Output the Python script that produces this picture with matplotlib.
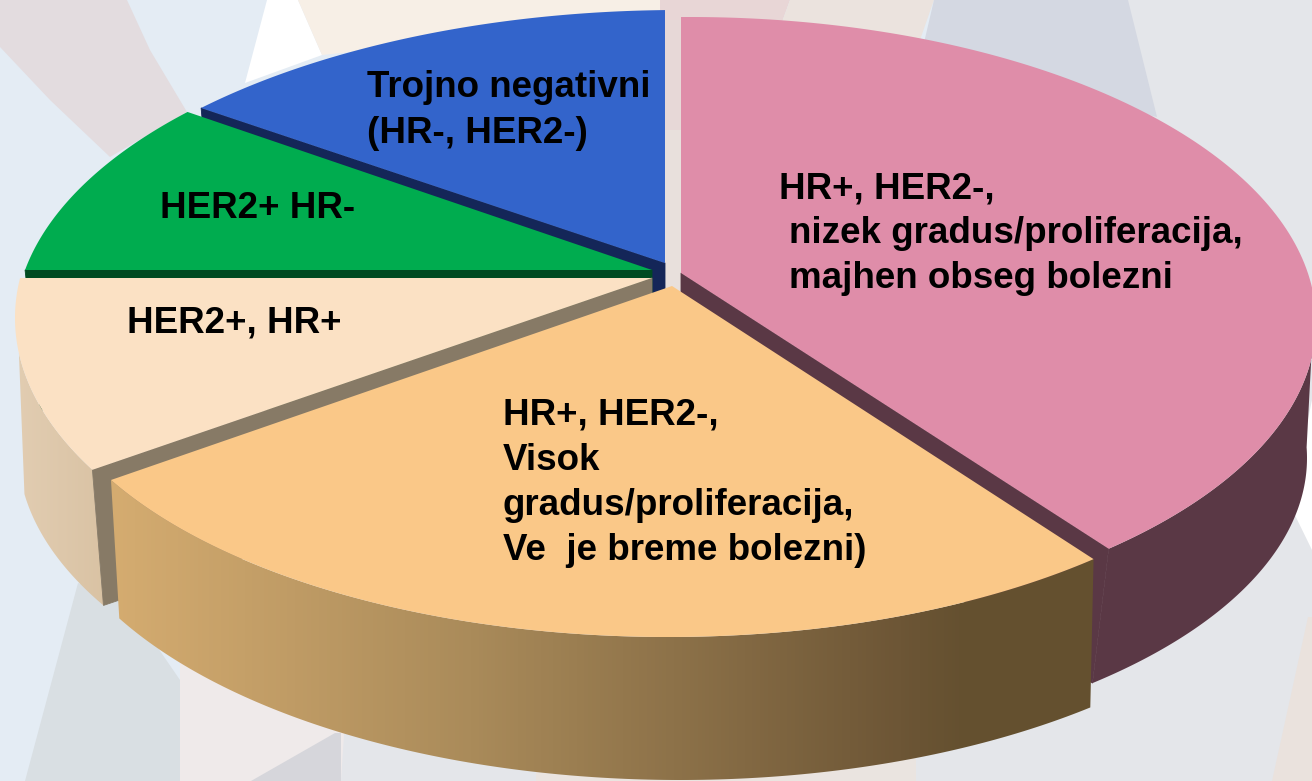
"""3D style pie chart of breast cancer subtypes, drawn in pixel coordinates."""

import numpy as np
import matplotlib
matplotlib.use('Agg')
import matplotlib.pyplot as plt
from matplotlib.colors import LinearSegmentedColormap
from matplotlib.patches import Polygon

plt.rcParams['font.family'] = ['Liberation Sans', 'DejaVu Sans']

# Shares in percent, clockwise from 12 o'clock
segments = ['pink', 'orange', 'peach', 'green', 'blue']
shares = [39.7, 25.1, 10.2, 9.8, 15.2]

# Every slice is pulled out a little, so it has its own top and bottom ellipse
# (center x, center y, radius x, radius y, apex x, apex y)
top_faces = {
    'pink': (690, 322, 626, 305, 681, 273),
    'orange': (668, 335, 635, 302, 672, 286),
    'peach': (662, 318, 647, 320, 652, 278),
    'green': (670, 325, 655, 315, 652, 270),
    'blue': (680, 330, 665, 320, 665, 263),
}
bottom_faces = {
    'pink': (690, 458, 617, 297, 681, 421),
    'orange': (680, 468, 640, 312, 665, 425),
    'peach': (661, 450, 643, 312, 652, 421),
    'green': (670, 465, 640, 307, 652, 410),
    'blue': (680, 470, 650, 312, 665, 403),
}
# Small correction of the slice edges in degrees, the perspective is not exact
nudges = {'pink': (0, 0), 'orange': (0.8, 0.7), 'peach': (2.0, 0), 'green': (0, 0), 'blue': (-0.5, 0)}
# The outer walls disappear behind the top faces here
PINK_WALL_START = 95
PEACH_WALL_END = 256.5

top_colors = {'pink': '#DF8DA9', 'orange': '#FAC888', 'peach': '#FBE1C4',
              'green': '#00AC4F', 'blue': '#3364CB'}
cut_colors = {'pink': '#5A3845', 'peach': '#877A66', 'green': '#004B22', 'blue': '#142658'}

label_lines = [
    ('Trojno negativni', 367, 97),
    ('(HR-, HER2-)', 367, 143),
    ('HER2+ HR-', 160, 218),
    ('HER2+, HR+', 127, 333),
    ('HR+, HER2-,', 779, 198),
    ('nizek gradus/proliferacija,', 789, 243),
    ('majhen obseg bolezni', 789, 288),
    ('HR+, HER2-,', 503, 425),
    ('Visok', 503, 470),
    ('gradus/proliferacija,', 503, 515),
    ('Ve  je breme bolezni)', 503, 560),
]

# Pale shapes of the slide background
background_shapes = [
    ('#E3DCDF', [(0, 0), (127, 0), (150, 50), (187, 112), (110, 157), (50, 100), (0, 47)]),
    ('#FFFFFF', [(267, 0), (298, 0), (322, 55), (245, 83)]),
    ('#F7EFE6', [(298, 0), (660, 0), (660, 20), (322, 55)]),
    ('#E8D6D6', [(660, 0), (790, 0), (781, 25), (660, 20)]),
    ('#E7D8D7', [(660, 20), (685, 20), (685, 130), (660, 130)]),
    ('#E8E0DC', [(660, 130), (685, 130), (685, 300), (660, 300)]),
    ('#EBE3DE', [(790, 0), (934, 0), (920, 40), (781, 25)]),
    ('#E4E6EA', [(1128, 0), (1312, 0), (1312, 781), (341, 781), (341, 600), (900, 300)]),
    ('#D4D8E2', [(934, 0), (1128, 0), (1157, 117), (920, 60)]),
    ('#FFFFFF', [(1290, 505), (1312, 400), (1312, 550)]),
    ('#EAE2DD', [(1308, 617), (1312, 617), (1312, 781), (1272, 781)]),
    ('#D9DFE3', [(78, 583), (125, 600), (180, 680), (180, 781), (25, 781)]),
    ('#EFEAEA', [(180, 640), (345, 720), (341, 781), (180, 781)]),
    ('#D6D6DB', [(335, 733), (341, 733), (341, 781), (251, 781)]),
    ('#EAE4E0', [(536, 700), (916, 700), (916, 781), (536, 781)]),
]

# Side wall shading of the orange slice, left to right
wall_colors = ['#D6AD71', '#AA8B5A', '#6D5636', '#64502F', '#64502F']
wall_stops = [0.0, 0.37, 0.80, 0.87, 1.0]
peach_wall_colors = ['#E2CDB2', '#D9C2A3']


def rim_points(face, start, end, n=150):
    """Points of an ellipse between two angles, seen from the apex of the face."""
    cx, cy, a, b, ax_, ay_ = face
    qx = (ax_ - cx) / a
    qy = (ay_ - cy) / b
    theta = np.radians(np.linspace(start, end, n))
    dx, dy = np.sin(theta), -np.cos(theta)
    proj = qx * dx + qy * dy
    t = -proj + np.sqrt(proj ** 2 - (qx ** 2 + qy ** 2 - 1))
    return np.column_stack((cx + a * (qx + t * dx), cy + b * (qy + t * dy)))


def draw_top(ax, name, start, end, z):
    pts = np.vstack(([top_faces[name][4:]], rim_points(top_faces[name], start, end)))
    ax.add_patch(Polygon(pts, closed=True, fc=top_colors[name], ec='none', zorder=z))


def draw_cut(ax, name, angle, z):
    top = top_faces[name]
    bottom = bottom_faces[name]
    pts = np.vstack(([top[4:]], rim_points(top, angle, angle, 1),
                     rim_points(bottom, angle, angle, 1), [bottom[4:]]))
    ax.add_patch(Polygon(pts, closed=True, fc=cut_colors[name], ec=cut_colors[name],
                         lw=0.6, zorder=z))


def outer_wall(name, start, end):
    rim = rim_points(top_faces[name], start, end)
    low = rim_points(bottom_faces[name], start, end)
    return np.vstack((rim, low[::-1]))


def draw_gradient_wall(ax, name, start, end, cmap, x0, x1, z):
    patch = Polygon(outer_wall(name, start, end), closed=True, fc='none', ec='none', zorder=z)
    ax.add_patch(patch)
    grad = np.linspace(0, 1, 256).reshape(1, -1)
    img = ax.imshow(grad, extent=(x0, x1, 781, 0), cmap=cmap, aspect='auto', zorder=z)
    img.set_clip_path(patch)


def main():
    fig = plt.figure(figsize=(13.12, 7.81), dpi=100, facecolor='#E4ECF4')
    ax = fig.add_axes([0, 0, 1, 1])

    for color, pts in background_shapes:
        ax.add_patch(Polygon(pts, closed=True, fc=color, ec='none', zorder=1))

    edges = np.concatenate(([0], np.cumsum(shares))) * 3.6
    span = {}
    for i, name in enumerate(segments):
        span[name] = (edges[i] + nudges[name][0], edges[i + 1] + nudges[name][1])

    orange_map = LinearSegmentedColormap.from_list('orange_wall', list(zip(wall_stops, wall_colors)))
    peach_map = LinearSegmentedColormap.from_list('peach_wall', peach_wall_colors)

    # Back to front, later slices hide the cut faces of earlier ones
    draw_cut(ax, 'blue', span['blue'][0], 2)
    draw_top(ax, 'blue', *span['blue'], 3)
    draw_cut(ax, 'green', span['green'][0], 4)
    draw_top(ax, 'green', *span['green'], 5)
    draw_gradient_wall(ax, 'peach', span['peach'][0], PEACH_WALL_END, peach_map, 15, 110, 6)
    draw_cut(ax, 'peach', span['peach'][0], 7)
    draw_top(ax, 'peach', *span['peach'], 8)
    ax.add_patch(Polygon(outer_wall('pink', PINK_WALL_START, span['pink'][1]), closed=True,
                         fc=cut_colors['pink'], ec='none', zorder=9))
    draw_cut(ax, 'pink', span['pink'][1], 10)
    draw_top(ax, 'pink', *span['pink'], 11)
    draw_gradient_wall(ax, 'orange', *span['orange'], orange_map, 100, 1100, 12)
    draw_top(ax, 'orange', *span['orange'], 13)

    for text, x, y in label_lines:
        ax.text(x, y, text, fontsize=26.5, fontweight='bold', color='black',
                va='baseline', ha='left', zorder=20)

    ax.set_xlim(0, 1312)
    ax.set_ylim(781, 0)
    ax.axis('off')

    fig.savefig('out.png', dpi=100, facecolor=fig.get_facecolor())


if __name__ == "__main__":
    main()
